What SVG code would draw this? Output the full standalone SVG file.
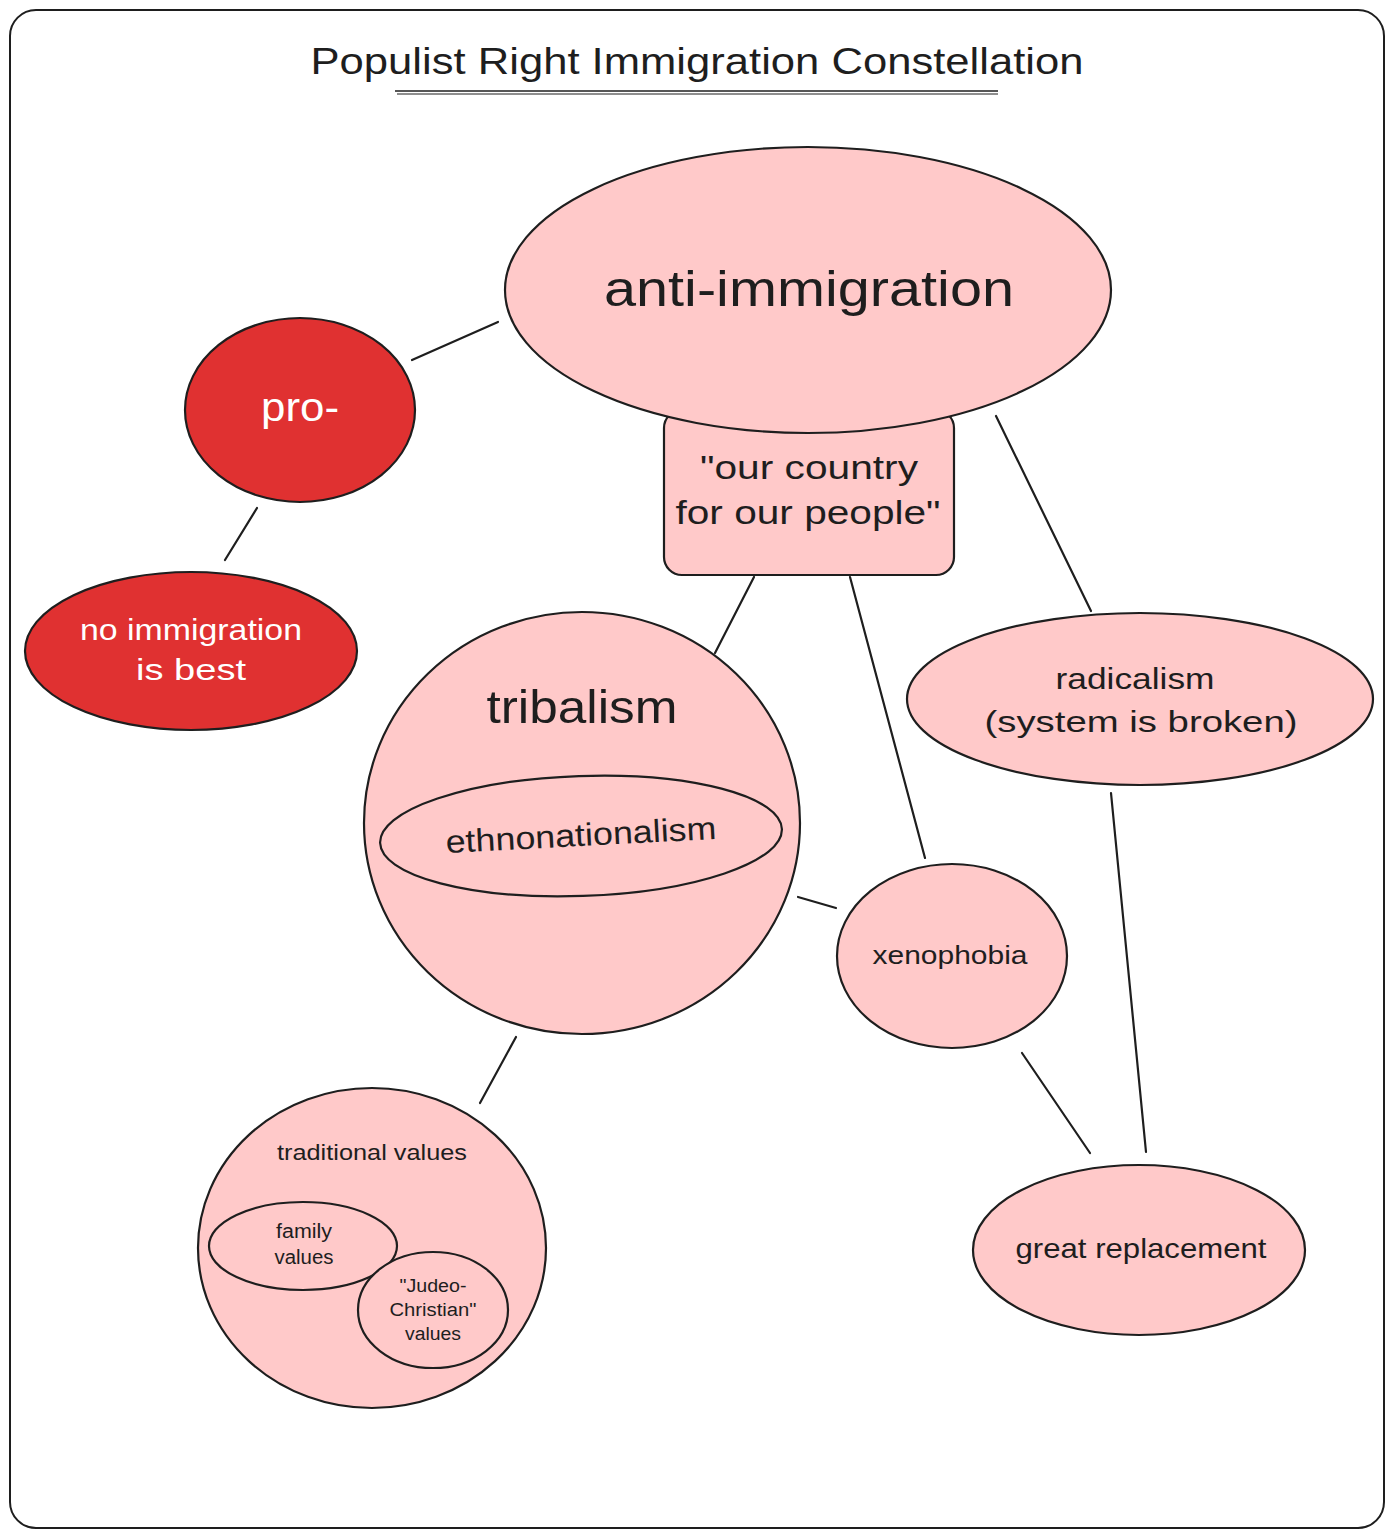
<svg xmlns="http://www.w3.org/2000/svg" width="1394" height="1539" viewBox="0 0 1394 1539">
<defs>
<style>
.frame{fill:#ffffff;stroke:#1e1e1e;stroke-width:2}
.pink{fill:#ffc9c9;stroke:#1e1e1e;stroke-width:2.2}
.red{fill:#e03131;stroke:#1e1e1e;stroke-width:2.2}
.edge{stroke:#1e1e1e;stroke-width:2.2;fill:none;stroke-linecap:round}
text{font-family:"Liberation Sans","Noto Sans",sans-serif;fill:#1e1e1e;text-anchor:middle}
.w{fill:#ffffff}
</style>
</defs>
<rect class="frame" x="10" y="10" width="1374" height="1518" rx="26"/>
<g id="title">
<text x="697" y="74" font-size="36" textLength="773" lengthAdjust="spacingAndGlyphs">Populist Right Immigration Constellation</text>
<line x1="395" y1="91" x2="998" y2="91" stroke="#1e1e1e" stroke-width="1.5"/>
<line x1="397" y1="94" x2="998" y2="94" stroke="#1e1e1e" stroke-width="1.2"/>
</g>
<g id="connectors">
<line class="edge" x1="412" y1="360" x2="498" y2="322"/>
<line class="edge" x1="257" y1="508" x2="225" y2="560"/>
<line class="edge" x1="754" y1="577" x2="715" y2="653"/>
<line class="edge" x1="850" y1="577" x2="925" y2="858"/>
<line class="edge" x1="996" y1="416" x2="1091" y2="611"/>
<line class="edge" x1="798" y1="897" x2="836" y2="908"/>
<line class="edge" x1="516" y1="1037" x2="480" y2="1103"/>
<line class="edge" x1="1022" y1="1053" x2="1090" y2="1153"/>
<line class="edge" x1="1111" y1="793" x2="1146" y2="1152"/>
</g>
<g id="slogan">
<rect class="pink" x="664" y="410" width="290" height="165" rx="18"/>
<text x="809" y="479" font-size="34" textLength="218" lengthAdjust="spacingAndGlyphs">"our country</text>
<text x="808" y="524" font-size="34" textLength="265" lengthAdjust="spacingAndGlyphs">for our people"</text>
</g>
<g id="anti-immigration">
<ellipse class="pink" cx="808" cy="290" rx="303" ry="143"/>
<text x="809" y="306" font-size="50" textLength="410" lengthAdjust="spacingAndGlyphs">anti-immigration</text>
</g>
<g id="pro">
<ellipse class="red" cx="300" cy="410" rx="115" ry="92"/>
<text class="w" x="300" y="421" font-size="40" textLength="78" lengthAdjust="spacingAndGlyphs">pro-</text>
</g>
<g id="no-immigration">
<ellipse class="red" cx="191" cy="651" rx="166" ry="79"/>
<text class="w" x="191" y="640" font-size="30" textLength="222" lengthAdjust="spacingAndGlyphs">no immigration</text>
<text class="w" x="191" y="680" font-size="30" textLength="110" lengthAdjust="spacingAndGlyphs">is best</text>
</g>
<g id="tribalism">
<ellipse class="pink" cx="582" cy="823" rx="218" ry="211"/>
<text x="582" y="723" font-size="46" textLength="191" lengthAdjust="spacingAndGlyphs">tribalism</text>
</g>
<g id="ethnonationalism">
<ellipse class="pink" cx="581" cy="836" rx="201" ry="60" transform="rotate(-2 581 836)"/>
<text x="581" y="846" font-size="32" textLength="271" lengthAdjust="spacingAndGlyphs" transform="rotate(-3 581 836)">ethnonationalism</text>
</g>
<g id="xenophobia">
<ellipse class="pink" cx="952" cy="956" rx="115" ry="92"/>
<text x="950" y="964" font-size="26" textLength="155" lengthAdjust="spacingAndGlyphs">xenophobia</text>
</g>
<g id="radicalism">
<ellipse class="pink" cx="1140" cy="699" rx="233" ry="86"/>
<text x="1135" y="689" font-size="30" textLength="159" lengthAdjust="spacingAndGlyphs">radicalism</text>
<text x="1141" y="732" font-size="30" textLength="313" lengthAdjust="spacingAndGlyphs">(system is broken)</text>
</g>
<g id="great-replacement">
<ellipse class="pink" cx="1139" cy="1250" rx="166" ry="85"/>
<text x="1141" y="1258" font-size="28" textLength="251" lengthAdjust="spacingAndGlyphs">great replacement</text>
</g>
<g id="traditional-values">
<ellipse class="pink" cx="372" cy="1248" rx="174" ry="160"/>
<text x="372" y="1160" font-size="22" textLength="190" lengthAdjust="spacingAndGlyphs">traditional values</text>
</g>
<g id="family-values">
<ellipse class="pink" cx="303" cy="1246" rx="94" ry="44"/>
<text x="304" y="1238" font-size="20" textLength="56" lengthAdjust="spacingAndGlyphs">family</text>
<text x="304" y="1264" font-size="20" textLength="59" lengthAdjust="spacingAndGlyphs">values</text>
</g>
<g id="judeo-christian">
<ellipse class="pink" cx="433" cy="1310" rx="75" ry="58"/>
<text x="433" y="1292" font-size="18" textLength="67" lengthAdjust="spacingAndGlyphs">"Judeo-</text>
<text x="433" y="1316" font-size="18" textLength="87" lengthAdjust="spacingAndGlyphs">Christian"</text>
<text x="433" y="1340" font-size="18" textLength="56" lengthAdjust="spacingAndGlyphs">values</text>
</g>
</svg>
